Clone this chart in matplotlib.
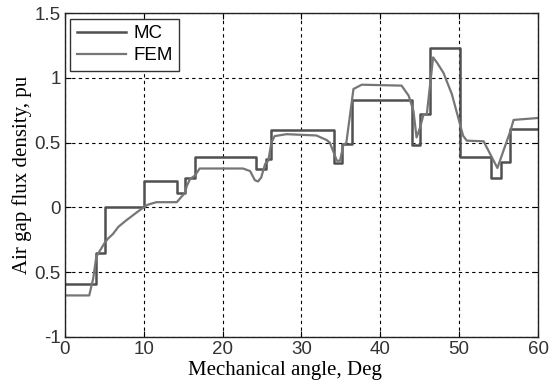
import matplotlib
matplotlib.use("Agg")
import matplotlib.pyplot as plt

# MC (analytical) curve - step profile
mc_x = [0, 3.95, 3.95, 5.15, 5.15, 10.0, 10.0, 14.2, 14.2, 15.2, 15.2, 16.5, 16.5,
        24.2, 24.2, 25.5, 25.5, 26.2, 26.2, 34.1, 34.1, 35.1, 35.1, 36.4, 36.4,
        44.0, 44.0, 45.1, 45.1, 46.3, 46.3, 50.1, 50.1, 54.1, 54.1, 55.3, 55.3,
        56.5, 56.5, 60]
mc_y = [-0.59, -0.59, -0.35, -0.35, 0.0, 0.0, 0.2, 0.2, 0.108, 0.108, 0.224, 0.224, 0.386,
        0.386, 0.30, 0.30, 0.37, 0.37, 0.595, 0.595, 0.345, 0.345, 0.49, 0.49, 0.829,
        0.829, 0.48, 0.48, 0.72, 0.72, 1.23, 1.23, 0.386, 0.386, 0.227, 0.227, 0.353,
        0.353, 0.605, 0.605]

# FEM curve
fem_x = [0, 3.1, 3.6, 4.0, 4.5, 4.8, 5.1, 5.5, 6.1, 6.8, 7.8, 9.1, 10.0, 10.5, 11.6,
         14.2, 15.2, 15.5, 15.9, 16.5, 17.1, 22.6, 23.5, 24.1, 24.5, 24.9, 25.4, 25.8,
         26.2, 26.6, 27.1, 28.1, 31.9, 33.2, 33.6, 34.5, 34.9, 35.3, 35.7, 36.6, 37.65,
         42.7, 43.6, 44.2, 44.6, 45.05, 45.5, 45.9, 46.7, 47.16, 48.0, 49.07, 50.1, 50.5,
         50.97, 53.1, 54.85, 56.5, 56.9, 57.9, 60]
fem_y = [-0.68, -0.68, -0.55, -0.38, -0.33, -0.30, -0.27, -0.24, -0.206, -0.15, -0.10,
         -0.04, 0.0, 0.02, 0.04, 0.04, 0.11, 0.17, 0.22, 0.245, 0.30, 0.30, 0.28, 0.21,
         0.20, 0.23, 0.335, 0.36, 0.50, 0.55, 0.555, 0.565, 0.555, 0.52, 0.50, 0.36, 0.36,
         0.476, 0.50, 0.914, 0.947, 0.94, 0.862, 0.747, 0.54, 0.618, 0.72, 0.72, 1.158,
         1.12, 1.04, 0.875, 0.644, 0.553, 0.515, 0.51, 0.304, 0.59, 0.675, 0.68, 0.69]

xticks = [0, 10, 20, 30, 40, 50, 60]
yticks = [-1, -0.5, 0, 0.5, 1, 1.5]
ytick_labels = ["-1", "0.5", "0", "0.5", "1", "1.5"]

fig = plt.figure(figsize=(5.49, 3.85), dpi=100)
ax = fig.add_axes([0.118, 0.125, 0.862, 0.841])

ax.plot(mc_x, mc_y, color="#505050", lw=1.8, label="MC")
ax.plot(fem_x, fem_y, color="#767676", lw=1.6, label="FEM")

ax.set_xlim(0, 60)
ax.set_ylim(-1, 1.5)
ax.set_xticks(xticks)
ax.set_yticks(yticks)
ax.set_yticklabels(ytick_labels)
ax.grid(True, color="black", linestyle=(0, (3, 3)), linewidth=0.8)
ax.tick_params(direction="in", top=True, right=True, labelsize=13.5, length=4, pad=3)
for lab in ax.get_xticklabels() + ax.get_yticklabels():
    lab.set_family("Liberation Sans")
    lab.set_color("#333333")
for s in ax.spines.values():
    s.set_linewidth(1.0)
    s.set_color("#222222")

ax.set_xlabel("Mechanical angle, Deg", family="Liberation Serif", fontsize=15, labelpad=0)
ax.xaxis.set_label_coords(0.466, -0.075)
ax.set_ylabel("Air gap flux density, pu", family="Liberation Serif", fontsize=15, labelpad=2)

leg = ax.legend(loc="upper left", prop={"family": "Liberation Sans", "size": 13.5},
                fancybox=False, edgecolor="#333333", framealpha=1, borderaxespad=0.3,
                handlelength=2.6, labelspacing=0.25, borderpad=0.35, handletextpad=0.4)
leg.get_frame().set_linewidth(1.0)

fig.savefig("out.png", dpi=100)
